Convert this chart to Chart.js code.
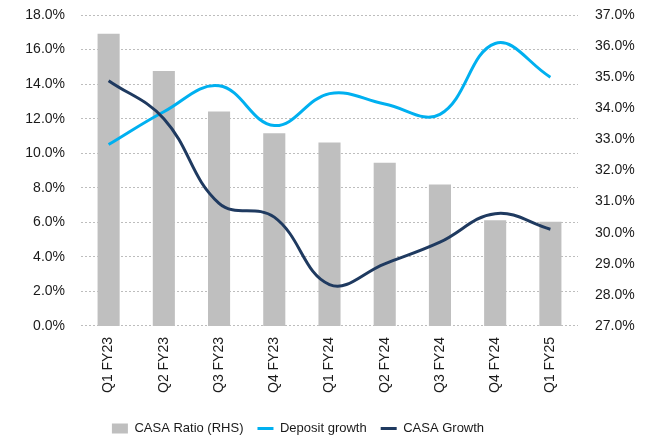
<!DOCTYPE html>
<html>
<head>
<meta charset="utf-8">
<script src="https://cdn.jsdelivr.net/npm/chart.js@4/dist/chart.umd.min.js"></script>
<style>
  html, body { margin: 0; padding: 0; background: #fff; }
  #wrap { width: 648px; height: 441px; position: relative; }
</style>
</head>
<body>
<div id="wrap"><canvas id="casaChart"></canvas></div>
<script>
// quarters on the x axis
const quarters = ['Q1 FY23', 'Q2 FY23', 'Q3 FY23', 'Q4 FY23', 'Q1 FY24', 'Q2 FY24', 'Q3 FY24', 'Q4 FY24', 'Q1 FY25'];

// CASA ratio, right hand scale (%)
const casaRatio = [36.4, 35.2, 33.9, 33.2, 32.9, 32.25, 31.55, 30.4, 30.35];

// growth series, left hand scale (%)
const depositGrowth = [10.5, 12.4, 13.9, 11.6, 13.45, 12.85, 12.25, 16.35, 14.4];
const casaGrowth = [14.2, 12.0, 7.1, 6.3, 2.4, 3.6, 4.85, 6.5, 5.6];

// tick ranges
const leftTicks = { min: 0, max: 18, step: 2 };
const rightTicks = { min: 27, max: 37, step: 1 };

const fontFamily = "'Liberation Sans', Arial, sans-serif";
const textColor = '#1a1a1a';
const pct = v => Number(v).toFixed(1) + '%';

// nudge the legend so it sits where the original one does
const legendShift = {
  id: 'legendShift',
  afterLayout(chart) {
    const lg = chart.legend;
    if (!lg) return;
    const dx = -33, dy = 4;
    lg.left += dx; lg.right += dx;
    lg.top += dy; lg.bottom += dy;
  }
};

// fixed axis widths, and no extra room reserved above/below the value axes
const fitY = w => scale => {
  scale.width = w;
  scale.paddingTop = 0;
  scale.paddingBottom = 0;
};

new Chart(document.getElementById('casaChart'), {
  type: 'bar',
  data: {
    labels: quarters,
    datasets: [
      {
        type: 'bar',
        label: 'CASA Ratio (RHS)',
        data: casaRatio,
        yAxisID: 'yRight',
        backgroundColor: '#BFBFBF',
        borderWidth: 0,
        categoryPercentage: 1,
        barPercentage: 0.4,
        pointStyle: 'rect',
        order: 2
      },
      {
        type: 'line',
        label: 'Deposit growth',
        data: depositGrowth,
        yAxisID: 'yLeft',
        borderColor: '#00B0F0',
        backgroundColor: '#00B0F0',
        borderWidth: 3,
        pointRadius: 0,
        pointStyle: 'line',
        tension: 0.4,
        order: 1
      },
      {
        type: 'line',
        label: 'CASA Growth',
        data: casaGrowth,
        yAxisID: 'yLeft',
        borderColor: '#1F3A60',
        backgroundColor: '#1F3A60',
        borderWidth: 3,
        pointRadius: 0,
        pointStyle: 'line',
        tension: 0.4,
        order: 0
      }
    ]
  },
  options: {
    responsive: true,
    maintainAspectRatio: false,
    animation: false,
    layout: {
      padding: { left: 25, right: 11, top: 15, bottom: 0 }
    },
    plugins: {
      tooltip: { enabled: false },
      legend: {
        position: 'bottom',
        labels: {
          usePointStyle: true,
          pointStyleWidth: 16,
          boxHeight: 10,
          padding: 14,
          color: textColor,
          font: { family: fontFamily, size: 13 },
          sort: (a, b) => a.datasetIndex - b.datasetIndex
        }
      }
    },
    scales: {
      x: {
        offset: true,
        grid: { display: false, drawTicks: false },
        border: { display: false },
        ticks: {
          autoSkip: false,
          minRotation: 90,
          maxRotation: 90,
          padding: 11,
          color: textColor,
          font: { family: fontFamily, size: 14 }
        }
      },
      yLeft: {
        position: 'left',
        min: leftTicks.min,
        max: leftTicks.max,
        afterFit: fitY(56),
        grid: {
          color: '#BDBDBD',
          lineWidth: 1,
          drawTicks: false
        },
        border: { display: false, dash: [2, 2] },
        ticks: {
          stepSize: leftTicks.step,
          padding: 16,
          color: textColor,
          font: { family: fontFamily, size: 14 },
          callback: pct
        }
      },
      yRight: {
        position: 'right',
        min: rightTicks.min,
        max: rightTicks.max,
        afterFit: fitY(59),
        grid: { display: false, drawTicks: false },
        border: { display: false },
        ticks: {
          stepSize: rightTicks.step,
          padding: 17,
          color: textColor,
          font: { family: fontFamily, size: 14 },
          callback: pct
        }
      }
    }
  },
  plugins: [legendShift]
});
</script>
</body>
</html>
